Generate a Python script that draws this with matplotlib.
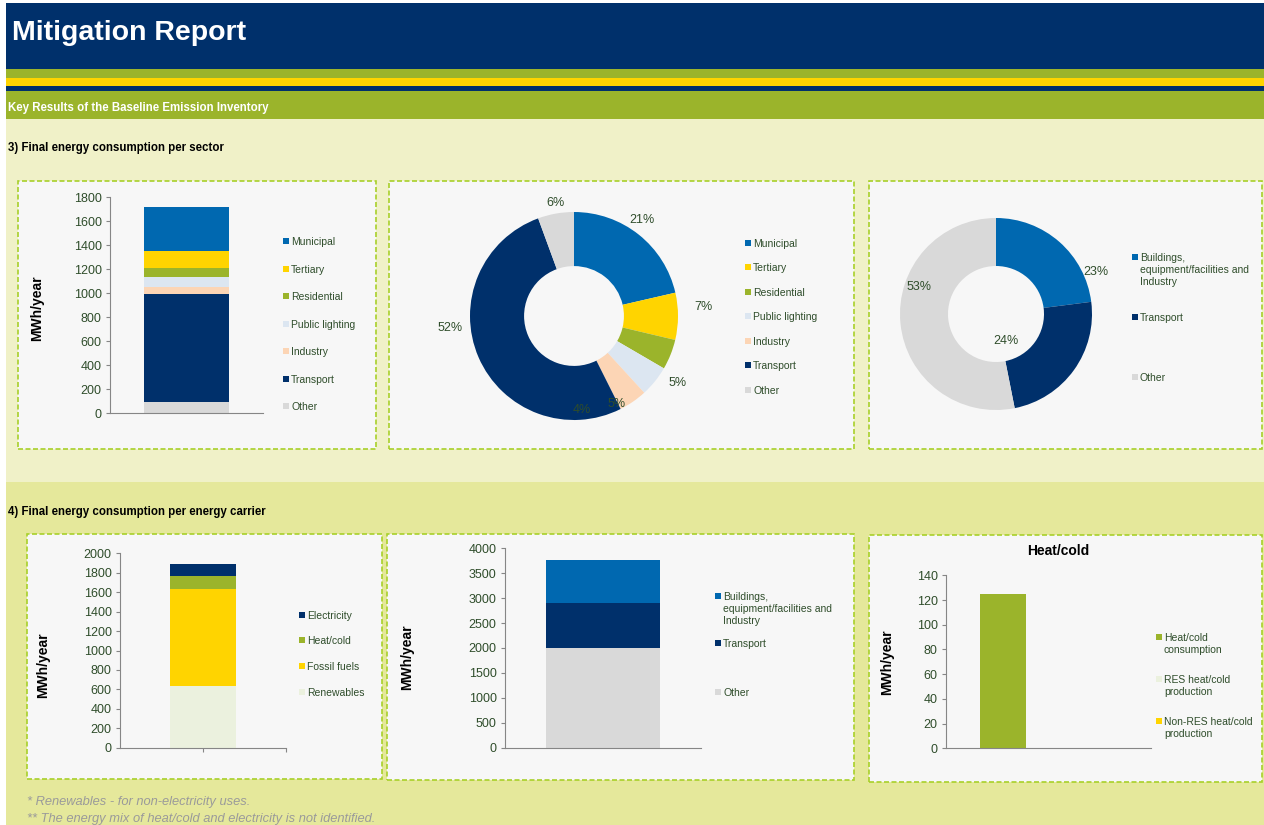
import matplotlib
matplotlib.use("Agg")
import matplotlib.pyplot as plt
from matplotlib.patches import Rectangle
import numpy as np

# ---- data ----
sector_names = ["Municipal", "Tertiary", "Residential", "Public lighting",
                "Industry", "Transport", "Other"]
sector_mwh = [367, 141, 75, 84, 55, 901, 97]
sector_share = [21.4, 7.3, 4.7, 4.8, 4.4, 51.8, 5.6]  # % shown in the donut

group_names = ["Buildings,\nequipment/facilities and\nIndustry", "Transport", "Other"]
group_mwh = [865, 900, 2000]

carrier_names = ["Electricity", "Heat/cold", "Fossil fuels", "Renewables"]
carrier_mwh = [125, 130, 1000, 635]

heat_names = ["Heat/cold\nconsumption", "RES heat/cold\nproduction",
              "Non-RES heat/cold\nproduction"]
heat_mwh = [125, 0, 0]

# ---- colours ----
NAVY = "#00306B"
BLUE = "#0068B0"
GREEN = "#9BB42B"
YELLOW = "#FFD400"
PALE = "#F0F1C8"
PALE2 = "#E5E89B"
PANEL = "#F7F7F7"
BORDER = "#A8D02A"
AXIS = "#868686"
TXT = "#2F4D2B"

sector_colors = [BLUE, YELLOW, GREEN, "#DCE6F1", "#FCD5B5", NAVY, "#D9D9D9"]
group_colors = [BLUE, NAVY, "#D9D9D9"]
carrier_colors = [NAVY, GREEN, YELLOW, "#EBF1DE"]
heat_colors = [GREEN, "#EBF1DE", YELLOW]

plt.rcParams["font.family"] = ["Liberation Sans", "DejaVu Sans"]

W, H = 1264, 825
fig = plt.figure(figsize=(W / 100, H / 100), dpi=100)


def box(x0, y0, x1, y1):
    # pixel box (top-down) -> figure fraction rect
    return [x0 / W, 1 - y1 / H, (x1 - x0) / W, (y1 - y0) / H]


def fill(x0, y0, x1, y1, color, z=-10, **kw):
    kw.setdefault("linewidth", 0)
    fig.add_artist(Rectangle((x0 / W, 1 - y1 / H), (x1 - x0) / W, (y1 - y0) / H,
                             transform=fig.transFigure, facecolor=color,
                             zorder=z, **kw))


def ftext(x, y, s, **kw):
    fig.text(x / W, 1 - y / H, s, **kw)


def legend(x, ys, colors, labels):
    # marker sits on the first line of each entry, lines 12 px apart
    for y, c, lab in zip(ys, colors, labels):
        fill(x, y - 3, x + 6, y + 3, c, z=2)
        for k, line in enumerate(lab.split("\n")):
            ftext(x + 8, y + 12 * k, line, fontsize=7.5, color=TXT,
                  va="center_baseline", ha="left")


def bar_axes(px, ymax, ystep):
    ax = fig.add_axes(box(*px))
    ax.set_facecolor("none")
    ax.set_ylim(0, ymax)
    ax.set_yticks(np.arange(0, ymax + 1, ystep))
    for s in ("top", "right"):
        ax.spines[s].set_visible(False)
    for s in ("left", "bottom"):
        ax.spines[s].set_color(AXIS)
        ax.spines[s].set_linewidth(0.8)
    ax.tick_params(axis="y", direction="out", length=3, color=AXIS,
                   labelcolor=TXT, labelsize=9, pad=3)
    ax.tick_params(axis="x", length=0, labelbottom=False)
    return ax


def stack(ax, values, colors, width, x=0):
    bottom = 0
    for v, c in zip(values[::-1], colors[::-1]):
        ax.bar(x, v, width=width, bottom=bottom, color=c, linewidth=0)
        bottom += v


# ---- page background ----
fill(6, 3, W, 69, NAVY)
fill(6, 69, W, 78, GREEN)
fill(6, 78, W, 86, YELLOW)
fill(6, 86, W, 91, NAVY)
fill(6, 91, W, 119, GREEN)
fill(6, 119, W, 482, PALE)
fill(6, 482, W, H, PALE2)

ftext(12, 40, "Mitigation Report", color="white", fontsize=20.5,
      fontweight="bold", va="baseline")
ftext(8, 110.5, "Key Results of the Baseline Emission Inventory", color="white",
      fontsize=8.3, fontweight="bold", va="baseline")
ftext(8, 151.5, "3) Final energy consumption per sector", color="black",
      fontsize=8.3, fontweight="bold", va="baseline")
ftext(8, 515.5, "4) Final energy consumption per energy carrier", color="black",
      fontsize=8.3, fontweight="bold", va="baseline")
ftext(27, 802, "* Renewables - for non-electricity uses.", color="#9A9A9A",
      fontsize=9.3, style="italic", va="center")
ftext(27, 819, "** The energy mix of heat/cold and electricity is not identified.",
      color="#9A9A9A", fontsize=9.3, style="italic", va="center")

# panels
for p in [(18, 181, 376, 449), (389, 181, 854, 449), (869, 181, 1262, 449),
          (27, 534, 382, 779), (387, 534, 854, 780), (869, 535, 1262, 782)]:
    fill(*p, PANEL, z=-5, edgecolor=BORDER, linestyle=(0, (3, 1.5)), linewidth=1.2)

# ---- 1: stacked bar per sector ----
ax1 = bar_axes((110, 197.3, 263, 413.3), 1800, 200)
ax1.set_xlim(-0.5, 0.5)
stack(ax1, sector_mwh, sector_colors, 0.56)
ftext(37, 308, "MWh/year", rotation=90, fontsize=10, fontweight="bold",
      ha="center", va="center")
legend(283, [241, 269, 296, 324, 351, 379, 406], sector_colors, sector_names)

# ---- 2: donut per sector ----
cx, cy, R = 574, 316, 103
ax2 = fig.add_axes(box(cx - 130, cy - 130, cx + 130, cy + 130))
ax2.set_xlim(-130 / R, 130 / R)
ax2.set_ylim(-130 / R, 130 / R)
ax2.axis("off")
wedges, _ = ax2.pie(sector_share, colors=sector_colors, startangle=90,
                    counterclock=False, radius=1,
                    wedgeprops=dict(width=0.52, linewidth=0))
lab_r = [1.13, 1.25, 1.19, 0.94, 0.91, 1.2, 1.1]
lab_dt = [3, 4, -11, -25, -30, -18, -1]
for w, v, r, dt in zip(wedges, sector_share, lab_r, lab_dt):
    a = np.deg2rad((w.theta1 + w.theta2) / 2 + dt)
    ax2.text(r * np.cos(a), r * np.sin(a), f"{v / sum(sector_share) * 100:.0f}%",
             ha="center", va="center", fontsize=9, color=TXT)
legend(745, [243, 267, 292, 316, 341, 365, 390], sector_colors, sector_names)

# ---- 3: donut per group ----
cx, cy, R = 996, 314, 95
ax3 = fig.add_axes(box(cx - 120, cy - 120, cx + 120, cy + 120))
ax3.set_xlim(-120 / R, 120 / R)
ax3.set_ylim(-120 / R, 120 / R)
ax3.axis("off")
wedges, _ = ax3.pie(group_mwh, colors=group_colors, startangle=90,
                    counterclock=False, radius=1,
                    wedgeprops=dict(width=0.5, linewidth=0))
lab_r = [1.13, 0.3, 0.85]
lab_dt = [-26, -34, -25]
for w, v, r, dt in zip(wedges, group_mwh, lab_r, lab_dt):
    a = np.deg2rad((w.theta1 + w.theta2) / 2 + dt)
    ax3.text(r * np.cos(a), r * np.sin(a), f"{v / sum(group_mwh) * 100:.0f}%",
             ha="center", va="center", fontsize=9, color=TXT)
legend(1132, [257, 317, 377], group_colors, group_names)

# ---- 4: stacked bar per energy carrier ----
ax4 = bar_axes((120, 553.3, 286, 747.7), 2000, 200)
ax4.set_xlim(0, 1)
stack(ax4, carrier_mwh, carrier_colors, 0.4, x=0.5)
ax4.set_xticks([0.5, 1.0])
ax4.tick_params(axis="x", direction="out", length=3, color=AXIS)
ftext(43, 665, "MWh/year", rotation=90, fontsize=10, fontweight="bold",
      ha="center", va="center")
legend(299, [615, 640, 666, 692], carrier_colors, carrier_names)

# ---- 5: stacked bar per group ----
ax5 = bar_axes((505, 548.3, 700.7, 747.7), 4000, 500)
ax5.set_xlim(-0.5, 0.5)
stack(ax5, group_mwh, group_colors, 0.58)
ftext(407, 657, "MWh/year", rotation=90, fontsize=10, fontweight="bold",
      ha="center", va="center")
legend(715, [596, 643, 692], group_colors, group_names)

# ---- 6: heat/cold clustered bars ----
ax6 = bar_axes((946, 575.3, 1150.7, 748.3), 140, 20)
ax6.set_xlim(0, 1)
bw = 1 / 4.5
for i, (v, c) in enumerate(zip(heat_mwh, heat_colors)):
    ax6.bar(0.5 + (i - 1) * bw, v, width=bw, color=c, linewidth=0)
ftext(1058, 551, "Heat/cold", fontsize=10, fontweight="bold", ha="center",
      va="center")
ftext(887, 662, "MWh/year", rotation=90, fontsize=10, fontweight="bold",
      ha="center", va="center")
legend(1156, [637, 679, 721], heat_colors, heat_names)

fig.savefig("out.png", dpi=100)
